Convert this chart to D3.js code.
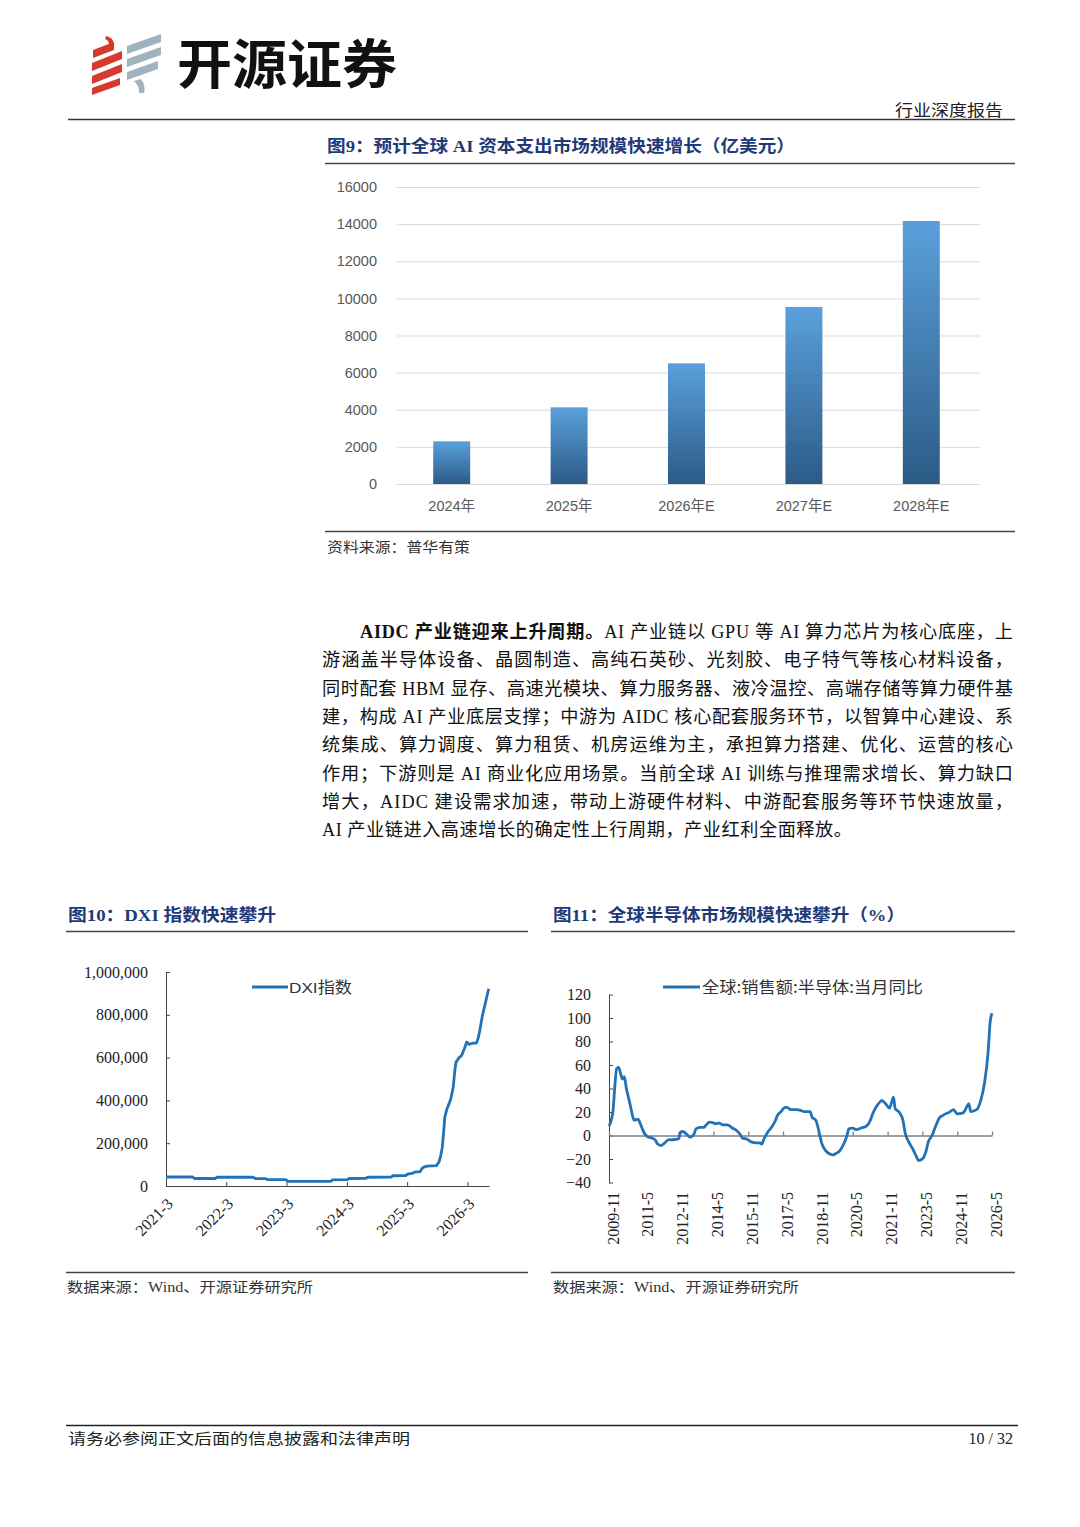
<!DOCTYPE html>
<html>
<head>
<meta charset="utf-8">
<script src="https://cdn.jsdelivr.net/npm/d3@7"></script>
<style>
  html, body { margin: 0; padding: 0; background: #fff; }
  svg { display: block; }
</style>
</head>
<body>
<div id="page"></div>
<script>
// ---- data ----
const barCategories = ["2024年", "2025年", "2026年E", "2027年E", "2028年E"];
const barValues = [2300, 4130, 6500, 9540, 14170];
const barTicks = [0, 2000, 4000, 6000, 8000, 10000, 12000, 14000, 16000];

const dxiDates = [
  "2021-03-01", "2021-08-10", "2021-08-20", "2021-12-25", "2022-01-05", "2022-08-10",
  "2022-08-25", "2022-10-25", "2022-11-05", "2023-02-25", "2023-03-10", "2023-11-25",
  "2023-12-05", "2024-03-05", "2024-03-15", "2024-06-25", "2024-07-05", "2024-11-25",
  "2024-12-05", "2025-02-20", "2025-03-05", "2025-04-05", "2025-04-15", "2025-05-20",
  "2025-05-30", "2025-06-10", "2025-06-28", "2025-08-25", "2025-09-10", "2025-09-20",
  "2025-09-30", "2025-10-08", "2025-10-15", "2025-10-28", "2025-11-10", "2025-11-20",
  "2025-12-05", "2025-12-15", "2025-12-22", "2026-01-10", "2026-01-25", "2026-02-10",
  "2026-02-25", "2026-03-10", "2026-04-05", "2026-04-25", "2026-05-05", "2026-05-15",
  "2026-06-01", "2026-06-15", "2026-07-08"
];
const dxiValues = [
  42000, 42000, 35000, 35000, 41000, 41000,
  35000, 34000, 30000, 30000, 22000, 22000,
  29000, 30000, 35000, 36000, 41000, 42000,
  48000, 49000, 56000, 60000, 65000, 67000,
  82000, 88000, 93000, 95000, 112000, 140000,
  180000, 250000, 320000, 360000, 385000, 405000,
  460000, 540000, 578000, 600000, 610000, 640000,
  673000, 662000, 668000, 668000, 690000, 725000,
  800000, 845000, 922000
];
const dxiTickLabels = ["2021-3", "2022-3", "2023-3", "2024-3", "2025-3", "2026-3"];
const dxiYTicks = [0, 200000, 400000, 600000, 800000, 1000000];

const semiDates = [
  "2009-11", "2010-01", "2010-02", "2010-03", "2010-04", "2010-05", "2010-06", "2010-07",
  "2010-08", "2010-09", "2010-10", "2010-11", "2010-12", "2011-02", "2011-03", "2011-05",
  "2011-07", "2011-09", "2011-11", "2011-12", "2012-02", "2012-04", "2012-06", "2012-07",
  "2012-09", "2012-11", "2012-12", "2013-01", "2013-03", "2013-05", "2013-07", "2013-08",
  "2013-10", "2013-12", "2014-01", "2014-03", "2014-05", "2014-06", "2014-08", "2014-10",
  "2014-12", "2015-01", "2015-03", "2015-05", "2015-07", "2015-08", "2015-10", "2015-12",
  "2016-01", "2016-03", "2016-05", "2016-06", "2016-07", "2016-09", "2016-11", "2017-01",
  "2017-02", "2017-04", "2017-06", "2017-07", "2017-09", "2017-12", "2018-02", "2018-04",
  "2018-07", "2018-08", "2018-10", "2018-11", "2018-12", "2019-01", "2019-03", "2019-05",
  "2019-07", "2019-08", "2019-10", "2019-12", "2020-02", "2020-03", "2020-05", "2020-07",
  "2020-09", "2020-12", "2021-02", "2021-03", "2021-05", "2021-07", "2021-08", "2021-10",
  "2021-12", "2022-01", "2022-02", "2022-03", "2022-05", "2022-07", "2022-08", "2022-10",
  "2022-12", "2023-02", "2023-03", "2023-05", "2023-07", "2023-08", "2023-10", "2023-12",
  "2024-02", "2024-03", "2024-05", "2024-07", "2024-09", "2024-11", "2025-02", "2025-03",
  "2025-05", "2025-06", "2025-09", "2025-11", "2026-01", "2026-03", "2026-04", "2026-05"
];
const semiValues = [
  8, 20, 42, 57, 58, 53, 48, 50,
  40, 33, 26, 18, 13, 14, 11, 3,
  -1, -2, -4, -7, -8.5, -6, -3.5, -3.7,
  -3.4, -2.8, 2.8, 3.4, 1.4, -1.4, 1.4, 5.7,
  7, 7, 8.5, 11.3, 10.8, 10, 10.5, 9,
  9, 8.5, 6.2, 4.3, 0.6, -2.3, -2.8, -5,
  -5.7, -6.2, -6.2, -7.4, -3.4, 2.8, 7, 12.8,
  17, 20.4, 24, 24, 22, 22, 21.3, 20.4,
  20.4, 15.6, 12.8, 7, 0, -7, -12.8, -15.6,
  -16.5, -15.6, -13.6, -8.5, 0, 5.7, 6.2, 5,
  6.2, 8, 12.8, 17, 24, 28.4, 29.8, 27,
  23.3, 27.8, 32.6, 22.7, 19.9, 12.8, 2.8, -5.7,
  -11.3, -18.4, -21.3, -19.9, -12.8, -5.7, 0, 8.5,
  15.6, 16.5, 18.4, 19.9, 22, 18.4, 19.3, 21.3,
  27, 20.4, 22, 29, 44, 71, 96, 104
];
const semiTickLabels = ["2009-11", "2011-5", "2012-11", "2014-5", "2015-11", "2017-5",
  "2018-11", "2020-5", "2021-11", "2023-5", "2024-11", "2026-5"];
const semiYTicks = [-40, -20, 0, 20, 40, 60, 80, 100, 120];

const paragraphLines = [
  "产业链迎来上升周期。AI 产业链以 GPU 等 AI 算力芯片为核心底座，上",
  "游涵盖半导体设备、晶圆制造、高纯石英砂、光刻胶、电子特气等核心材料设备，",
  "同时配套 HBM 显存、高速光模块、算力服务器、液冷温控、高端存储等算力硬件基",
  "建，构成 AI 产业底层支撑；中游为 AIDC 核心配套服务环节，以智算中心建设、系",
  "统集成、算力调度、算力租赁、机房运维为主，承担算力搭建、优化、运营的核心",
  "作用；下游则是 AI 商业化应用场景。当前全球 AI 训练与推理需求增长、算力缺口",
  "增大，AIDC 建设需求加速，带动上游硬件材料、中游配套服务等环节快速放量，",
  "AI 产业链进入高速增长的确定性上行周期，产业红利全面释放。"
];

// ---- page ----
const W = 1080, H = 1527;
const SERIF = "'Liberation Serif', 'Noto Sans CJK SC', serif";
const SANS = "'Liberation Sans', 'Noto Sans CJK SC', sans-serif";
const CJK = "'Noto Sans CJK SC', sans-serif";
const NAVY = "#1e3a78";
const LINE = "#2172b6";

const svg = d3.select("#page").append("svg")
  .attr("width", W).attr("height", H)
  .attr("viewBox", `0 0 ${W} ${H}`);
svg.append("rect").attr("width", W).attr("height", H).attr("fill", "#fff");

function hline(x1, x2, y, w, c) {
  svg.append("line")
    .attr("x1", x1).attr("x2", x2).attr("y1", y).attr("y2", y)
    .attr("stroke", c || "#333").attr("stroke-width", w || 1.2);
}

function label(x, y, str, o) {
  o = o || {};
  const t = svg.append("text")
    .attr("x", x).attr("y", y)
    .attr("font-family", o.family || SERIF)
    .attr("font-size", o.size || 15)
    .attr("font-weight", o.weight || "normal")
    .attr("fill", o.color || "#222")
    .attr("text-anchor", o.anchor || "start")
    .text(str);
  if (o.len) t.attr("textLength", o.len).attr("lengthAdjust", "spacingAndGlyphs");
  return t;
}

// ---- header ----
const logo = svg.append("g");
const redStrips = [[93, 50, 114, 42, 8], [92, 63, 122, 51, 8], [92, 76, 122, 64, 8], [92, 88, 120, 78, 7]];
const greyStrips = [[127, 46, 161, 34, 8], [127, 59, 161, 47, 8], [127, 72, 158, 61, 8]];
function strip(s, c) {
  const [xl, yl, xr, yr, h] = s;
  logo.append("polygon")
    .attr("points", `${xl},${yl} ${xr},${yr} ${xr},${yr + h} ${xl},${yl + h}`)
    .attr("fill", c);
}
redStrips.forEach(s => strip(s, "#d63a2e"));
greyStrips.forEach(s => strip(s, "#9fb4c0"));
logo.append("path").attr("d", "M106,36 Q113,37 114,44 L109,45 Q109,40 105,39 Z").attr("fill", "#d63a2e");
logo.append("path").attr("d", "M134,81 L141,79 Q146,86 144,93 L139,93 Q140,87 134,81 Z").attr("fill", "#9fb4c0");

label(177, 84, "开源证券", { family: CJK, size: 53, weight: "bold", color: "#111", len: 220 });
label(1003, 116, "行业深度报告", { family: CJK, size: 16, color: "#222", anchor: "end", len: 108 });
hline(68, 1015, 119.5, 1.6, "#333");

// ---- figure 9 ----
label(327, 152, "图9：预计全球 AI 资本支出市场规模快速增长（亿美元）",
  { family: SERIF, size: 17, weight: "bold", color: NAVY, len: 468 });
hline(325, 1015, 163.5, 1.4, "#444");

const fx = d3.scaleBand().domain(barCategories).range([393, 980])
  .paddingInner(0.685).paddingOuter(0.3425);
const fy = d3.scaleLinear().domain([0, 16000]).range([484, 187]);

const grad = svg.append("defs").append("linearGradient")
  .attr("id", "barGrad").attr("x1", 0).attr("y1", 0).attr("x2", 0).attr("y2", 1);
grad.append("stop").attr("offset", "0%").attr("stop-color", "#5aa0dc");
grad.append("stop").attr("offset", "100%").attr("stop-color", "#2c5b86");

const g9 = svg.append("g");
g9.append("g")
  .attr("transform", "translate(397,0)")
  .call(d3.axisLeft(fy).tickValues(barTicks).tickSize(-583).tickPadding(20).tickFormat(d3.format("d")))
  .call(g => g.select(".domain").remove())
  .call(g => g.selectAll(".tick line").attr("stroke", "#d9d9d9").attr("stroke-width", 1))
  .call(g => g.selectAll(".tick text").attr("font-family", SANS).attr("font-size", 14.5).attr("fill", "#595959"));

g9.selectAll("rect.bar").data(barValues).join("rect")
  .attr("class", "bar")
  .attr("x", (d, i) => fx(barCategories[i]))
  .attr("width", fx.bandwidth())
  .attr("y", d => fy(d))
  .attr("height", d => fy(0) - fy(d))
  .attr("fill", "url(#barGrad)");

g9.append("g")
  .attr("transform", `translate(0,${fy(0)})`)
  .call(d3.axisBottom(fx).tickSize(0).tickPadding(17))
  .call(g => g.select(".domain").remove())
  .call(g => g.selectAll(".tick text").attr("font-family", SANS).attr("font-size", 14.5).attr("fill", "#595959"));

hline(325, 1015, 531.5, 1.4, "#444");
label(327, 552, "资料来源：普华有策", { family: CJK, size: 14, color: "#333", len: 143 });

// ---- paragraph ----
const paraY0 = 638, paraStep = 28.3;
paragraphLines.forEach((line, i) => {
  const y = paraY0 + i * paraStep;
  const t = svg.append("text")
    .attr("y", y)
    .attr("font-family", SERIF)
    .attr("font-size", 18.2)
    .attr("fill", "#111");
  if (i === 0) {
    t.attr("x", 360);
    t.append("tspan").attr("font-weight", "bold").text("AIDC ");
    t.append("tspan").attr("font-weight", "bold").text("产业链迎来上升周期。");
    t.append("tspan").text(line.replace("产业链迎来上升周期。", ""));
    t.attr("textLength", 653).attr("lengthAdjust", "spacing");
  } else {
    t.attr("x", 322).text(line);
    if (i < paragraphLines.length - 1) t.attr("textLength", 691).attr("lengthAdjust", "spacing");
    else t.attr("textLength", 530).attr("lengthAdjust", "spacing");
  }
});

// ---- figure 10 ----
label(68, 921, "图10：DXI 指数快速攀升", { family: SERIF, size: 17, weight: "bold", color: NAVY, len: 208 });
hline(66, 528, 931.5, 1.4, "#444");

const parseDay = d3.timeParse("%Y-%m-%d");
const dxiData = dxiDates.map((d, i) => ({ date: parseDay(d), value: dxiValues[i] }));
const dx = d3.scaleTime().domain([parseDay("2021-03-01"), parseDay("2026-07-10")]).range([166, 489]);
const dy = d3.scaleLinear().domain([0, 1000000]).range([1186, 972]);

const g10 = svg.append("g");
g10.append("g")
  .attr("transform", "translate(166,0)")
  .call(d3.axisLeft(dy).tickValues(dxiYTicks).tickSize(-4).tickSizeOuter(0).tickPadding(18).tickFormat(d3.format(",")))
  .call(g => g.selectAll("path, line").attr("stroke", "#444"))
  .call(g => g.selectAll(".tick text").attr("font-family", SERIF).attr("font-size", 16).attr("fill", "#222"));

const dxiTickDates = dxiTickLabels.map(s => d3.timeParse("%Y-%m")(s));
g10.append("g")
  .attr("transform", `translate(0,${dy(0)})`)
  .call(d3.axisBottom(dx).tickValues(dxiTickDates).tickSize(-4).tickSizeOuter(0).tickFormat(""))
  .call(g => g.selectAll("path, line").attr("stroke", "#444"));

g10.selectAll("text.xl").data(dxiTickDates).join("text")
  .attr("class", "xl")
  .attr("transform", d => `translate(${dx(d) + 4},${dy(0) + 15}) rotate(-45)`)
  .attr("text-anchor", "end")
  .attr("dy", "0.35em")
  .attr("font-family", SERIF).attr("font-size", 16).attr("fill", "#222")
  .text((d, i) => dxiTickLabels[i]);

g10.append("path")
  .datum(dxiData)
  .attr("fill", "none").attr("stroke", LINE).attr("stroke-width", 2.8)
  .attr("stroke-linejoin", "round")
  .attr("d", d3.line().x(d => dx(d.date)).y(d => dy(d.value)));

g10.append("line").attr("x1", 252).attr("x2", 288).attr("y1", 987).attr("y2", 987)
  .attr("stroke", LINE).attr("stroke-width", 2.8);
label(289, 993, "DXI指数", { family: SANS, size: 15.5, color: "#333", len: 63 });

hline(66, 528, 1272.5, 1.4, "#444");
label(67, 1292, "数据来源：Wind、开源证券研究所", { family: SERIF, size: 14, color: "#333", len: 246 });

// ---- figure 11 ----
label(553, 921, "图11：全球半导体市场规模快速攀升（%）", { family: SERIF, size: 17, weight: "bold", color: NAVY, len: 352 });
hline(551, 1015, 931.5, 1.4, "#444");

const parseMonth = d3.timeParse("%Y-%m");
const semiData = semiDates.map((d, i) => ({ date: parseMonth(d), value: semiValues[i] }));
const sx = d3.scaleTime().domain([parseMonth("2009-11"), parseMonth("2026-05")]).range([609, 992]);
const sy = d3.scaleLinear().domain([-40, 120]).range([1182.5, 994.5]);

const g11 = svg.append("g");
g11.append("g")
  .attr("transform", "translate(609,0)")
  .call(d3.axisLeft(sy).tickValues(semiYTicks).tickSize(-4).tickSizeOuter(0).tickPadding(18))
  .call(g => g.selectAll("path, line").attr("stroke", "#444"))
  .call(g => g.selectAll(".tick text").attr("font-family", SERIF).attr("font-size", 16).attr("fill", "#222"));

const semiTickDates = semiTickLabels.map(s => parseMonth(s));
g11.append("g")
  .attr("transform", `translate(0,${sy(0)})`)
  .call(d3.axisBottom(sx).tickValues(semiTickDates).tickSize(-4).tickSizeOuter(0).tickFormat(""))
  .call(g => g.selectAll("path, line").attr("stroke", "#7f7f7f").attr("stroke-width", 1.3));

g11.selectAll("text.xl").data(semiTickDates).join("text")
  .attr("class", "xl")
  .attr("transform", d => `translate(${sx(d) + 4},1192) rotate(-90)`)
  .attr("text-anchor", "end")
  .attr("dy", "0.35em")
  .attr("font-family", SERIF).attr("font-size", 16).attr("fill", "#222")
  .text((d, i) => semiTickLabels[i]);

g11.append("path")
  .datum(semiData)
  .attr("fill", "none").attr("stroke", LINE).attr("stroke-width", 2.8)
  .attr("stroke-linejoin", "round")
  .attr("d", d3.line().curve(d3.curveMonotoneX).x(d => sx(d.date)).y(d => sy(d.value)));

g11.append("line").attr("x1", 663).attr("x2", 700).attr("y1", 987).attr("y2", 987)
  .attr("stroke", LINE).attr("stroke-width", 2.8);
label(702, 993, "全球:销售额:半导体:当月同比", { family: CJK, size: 16, color: "#333", len: 221 });

hline(551, 1015, 1272.5, 1.4, "#444");
label(553, 1292, "数据来源：Wind、开源证券研究所", { family: SERIF, size: 14, color: "#333", len: 246 });

// ---- footer ----
hline(66, 1018, 1425.5, 1.6, "#222");
label(68, 1444, "请务必参阅正文后面的信息披露和法律声明", { family: SERIF, size: 15, color: "#222", len: 342 });
label(1013, 1444, "10 / 32", { family: SERIF, size: 16, color: "#222", anchor: "end" });
</script>
</body>
</html>
